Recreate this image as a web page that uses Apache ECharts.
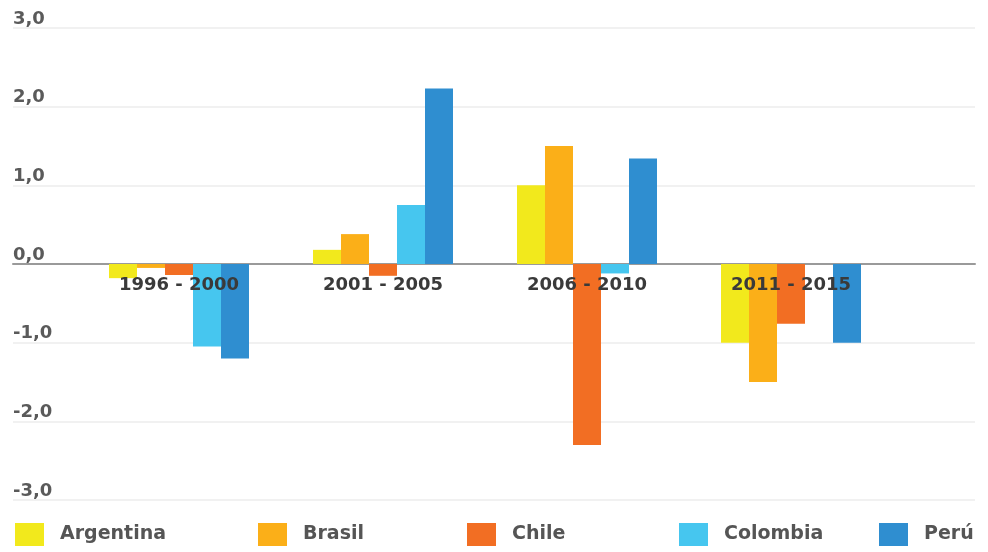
<!DOCTYPE html>
<html>
<head>
<meta charset="utf-8">
<style>
  html, body { margin: 0; padding: 0; background: #ffffff; }
  #chart { width: 988px; height: 552px; }
</style>
<script src="https://cdn.jsdelivr.net/npm/echarts@6/dist/echarts.min.js"></script>
</head>
<body>
<div id="chart"></div>
<script>
// Periods on the horizontal axis
const periods = ['1996 - 2000', '2001 - 2005', '2006 - 2010', '2011 - 2015'];

// Values per country and period
const argentina = [-0.18, 0.18, 1.0, -1.0];
const brasil = [-0.05, 0.38, 1.5, -1.5];
const chile = [-0.14, -0.15, -2.3, -0.76];
const colombia = [-1.05, 0.75, -0.12, 0];
const peru = [-1.2, 2.23, 1.34, -1.0];

// Value axis range and step
const yMin = -3;
const yMax = 3;
const yStep = 1;

const countries = [
  { name: 'Argentina', data: argentina, color: '#F2E91C' },
  { name: 'Brasil', data: brasil, color: '#FBAF18' },
  { name: 'Chile', data: chile, color: '#F26E23' },
  { name: 'Colombia', data: colombia, color: '#46C6EF' },
  { name: 'Perú', data: peru, color: '#2F8ED0' }
];

const FONT = 'DejaVu Sans';
const legendLeft = [15, 258, 467, 679, 879];

const CHART_H = 552;
const GRID_TOP = 28;
const GRID_BOTTOM = 52;
// the period labels sit just under the zero line, so the category axis
// is shifted up from the grid bottom to the y = 0 position
const plotH = CHART_H - GRID_TOP - GRID_BOTTOM;
const zeroShift = -plotH * (0 - yMin) / (yMax - yMin);

const chart = echarts.init(document.getElementById('chart'), null, { renderer: 'canvas' });

chart.setOption({
  backgroundColor: '#ffffff',
  animation: false,
  grid: [
    // full-width grid: gridlines, value labels and the zero line
    { left: 13, right: 13, top: GRID_TOP, bottom: GRID_BOTTOM, containLabel: false },
    // inner grid holding the bars and period labels
    { left: 77, right: 95, top: GRID_TOP, bottom: GRID_BOTTOM, containLabel: false }
  ],
  legend: countries.map((c, i) => ({
    data: [c.name],
    left: legendLeft[i],
    top: 523,
    padding: 0,
    itemWidth: 29,
    itemHeight: 23,
    icon: 'rect',
    selectedMode: false,
    textStyle: {
      fontFamily: FONT,
      fontWeight: 'bold',
      fontSize: 19,
      color: '#555555',
      padding: [5, 0, 0, 11]
    }
  })),
  xAxis: [
    {
      gridIndex: 0,
      type: 'value',
      min: 0,
      max: 1,
      axisLine: { show: true, onZero: true, lineStyle: { color: '#9a9a9a', width: 2 } },
      axisTick: { show: false },
      axisLabel: { show: false },
      splitLine: { show: false }
    },
    {
      gridIndex: 1,
      type: 'category',
      data: periods,
      position: 'bottom',
      offset: zeroShift,
      z: 10,
      axisLine: { show: false, onZero: false },
      axisTick: { show: false },
      axisLabel: {
        margin: 12,
        fontFamily: FONT,
        fontWeight: 'bold',
        fontSize: 18,
        color: '#3a3a3a'
      },
      splitLine: { show: false }
    }
  ],
  yAxis: [
    {
      gridIndex: 0,
      type: 'value',
      min: yMin,
      max: yMax,
      interval: yStep,
      axisLine: { show: false },
      axisTick: { show: false },
      axisLabel: {
        inside: true,
        margin: 0,
        verticalAlign: 'bottom',
        fontFamily: FONT,
        fontWeight: 'bold',
        fontSize: 18,
        color: '#5a5a5a',
        formatter: v => v.toFixed(1).replace('.', ',')
      },
      splitLine: { show: true, lineStyle: { color: '#f1f1f1', width: 2 } }
    },
    {
      gridIndex: 1,
      type: 'value',
      min: yMin,
      max: yMax,
      interval: yStep,
      axisLine: { show: false },
      axisTick: { show: false },
      axisLabel: { show: false },
      splitLine: { show: false }
    }
  ],
  series: countries.map(c => ({
    name: c.name,
    type: 'bar',
    xAxisIndex: 1,
    yAxisIndex: 1,
    data: c.data,
    barWidth: 28,
    barGap: '0%',
    itemStyle: { color: c.color },
    emphasis: { disabled: true }
  }))
});
</script>
</body>
</html>
